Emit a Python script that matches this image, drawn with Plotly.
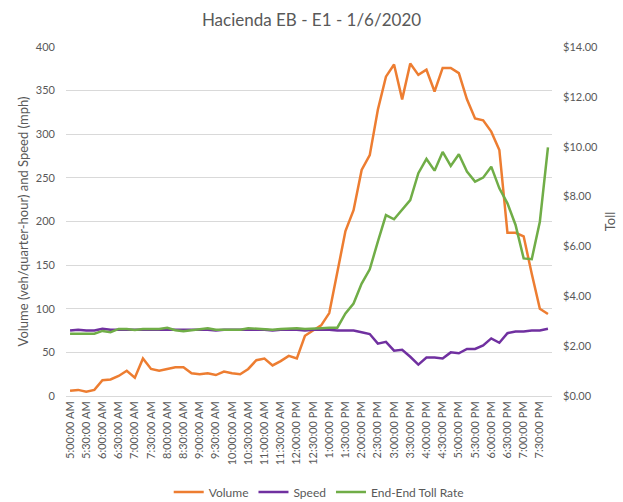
import plotly.graph_objects as go

# 15-minute intervals, 5:00 AM to 7:45 PM
times = ["5:00:00 AM", "5:15:00 AM", "5:30:00 AM", "5:45:00 AM", "6:00:00 AM", "6:15:00 AM",
         "6:30:00 AM", "6:45:00 AM", "7:00:00 AM", "7:15:00 AM", "7:30:00 AM", "7:45:00 AM",
         "8:00:00 AM", "8:15:00 AM", "8:30:00 AM", "8:45:00 AM", "9:00:00 AM", "9:15:00 AM",
         "9:30:00 AM", "9:45:00 AM", "10:00:00 AM", "10:15:00 AM", "10:30:00 AM", "10:45:00 AM",
         "11:00:00 AM", "11:15:00 AM", "11:30:00 AM", "11:45:00 AM", "12:00:00 PM", "12:15:00 PM",
         "12:30:00 PM", "12:45:00 PM", "1:00:00 PM", "1:15:00 PM", "1:30:00 PM", "1:45:00 PM",
         "2:00:00 PM", "2:15:00 PM", "2:30:00 PM", "2:45:00 PM", "3:00:00 PM", "3:15:00 PM",
         "3:30:00 PM", "3:45:00 PM", "4:00:00 PM", "4:15:00 PM", "4:30:00 PM", "4:45:00 PM",
         "5:00:00 PM", "5:15:00 PM", "5:30:00 PM", "5:45:00 PM", "6:00:00 PM", "6:15:00 PM",
         "6:30:00 PM", "6:45:00 PM", "7:00:00 PM", "7:15:00 PM", "7:30:00 PM", "7:45:00 PM"]

volume = [6, 7, 5, 7, 18, 19, 23, 29, 21, 43, 31, 29, 31, 33, 33, 26, 25, 26, 24, 28,
          26, 25, 31, 41, 43, 35, 40, 46, 43, 69, 75, 81, 95, 142, 189, 213, 259, 276, 328, 366,
          380, 340, 381, 368, 374, 349, 376, 376, 370, 340, 318, 316, 303, 282, 187, 187, 183, 140, 100, 94]

speed = [75, 76, 75, 75, 77, 76, 76, 76, 76, 76, 76, 76, 76, 76, 76, 76, 76, 76, 75, 76,
         76, 76, 76, 76, 76, 75, 76, 76, 76, 75, 76, 76, 76, 75, 75, 75, 73, 71, 60, 62,
         52, 53, 45, 36, 44, 44, 43, 50, 49, 54, 54, 58, 66, 61, 72, 74, 74, 75, 75, 77]

toll = [2.50, 2.50, 2.50, 2.50, 2.61, 2.56, 2.69, 2.69, 2.65, 2.69, 2.69, 2.69, 2.74, 2.64, 2.60,
        2.65, 2.69, 2.72, 2.66, 2.65, 2.66, 2.66, 2.72, 2.69, 2.66, 2.66, 2.69, 2.72, 2.72, 2.69,
        2.72, 2.72, 2.74, 2.74, 3.31, 3.71, 4.51, 5.08, 6.19, 7.26, 7.09, 7.46, 7.86, 8.94, 9.51,
        9.04, 9.79, 9.23, 9.70, 9.00, 8.60, 8.76, 9.20, 8.33, 7.73, 6.86, 5.52, 5.49, 6.99, 9.97]

grey = "#595959"
font = "Lato"

fig = go.Figure()
fig.add_trace(go.Scatter(x=times, y=volume, name="Volume", mode="lines",
                         line=dict(color="#ED7D31", width=2.5)))
fig.add_trace(go.Scatter(x=times, y=speed, name="Speed", mode="lines",
                         line=dict(color="#7030A0", width=2.5)))
fig.add_trace(go.Scatter(x=times, y=toll, name="End-End Toll Rate", mode="lines",
                         line=dict(color="#70AD47", width=2.5), yaxis="y2"))

fig.update_layout(
    width=623, height=502,
    margin=dict(l=66, r=71, t=47, b=106),
    paper_bgcolor="white", plot_bgcolor="white",
    font=dict(family=font, color=grey, size=11),
    title=dict(text="Hacienda EB - E1 - 1/6/2020", x=0.5, xanchor="center",
               y=0.96, yanchor="middle", font=dict(size=17, color=grey)),
    xaxis=dict(type="category", range=[-0.5, 59.5], tickvals=times[::2], ticktext=times[::2],
               tickangle=-90, showgrid=False, showline=True, linecolor="#d9d9d9", linewidth=1,
               ticks="", automargin=False, tickfont=dict(size=11, color=grey)),
    yaxis=dict(range=[0, 400], dtick=50, gridcolor="#d9d9d9", zeroline=False,
               ticklabelstandoff=10, automargin=False,
               title=dict(text="Volume (veh/quarter-hour) and Speed (mph)", font=dict(size=13, color=grey), standoff=4),
               tickfont=dict(size=11, color=grey)),
    yaxis2=dict(range=[0, 14], dtick=2, overlaying="y", side="right", showgrid=False,
                tickprefix="$", tickformat=".2f", zeroline=False,
                ticklabelstandoff=10, automargin=False,
                title=dict(text="Toll", font=dict(size=13, color=grey), standoff=8),
                tickfont=dict(size=11, color=grey)),
    legend=dict(orientation="h", x=0.52, xanchor="center", yref="container", y=0.02,
                yanchor="middle", font=dict(size=12, color=grey)),
    showlegend=True,
)

fig.write_html("out.html", config={"displayModeBar": False},
               post_script="document.body.style.margin='0';")
